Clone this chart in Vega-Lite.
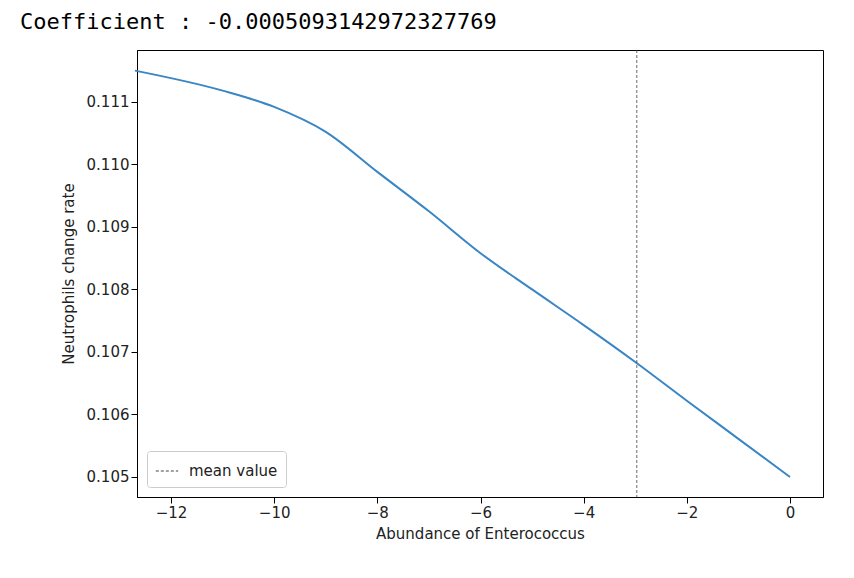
{
  "$schema": "https://vega.github.io/schema/vega-lite/v6.json",
  "width": 686,
  "height": 447,
  "autosize": "none",
  "padding": {"left": 137, "top": 50, "right": 31, "bottom": 81},
  "background": "white",
  "title": {
    "text": "Coefficient : -0.0005093142972327769",
    "font": "DejaVu Sans Mono",
    "fontSize": 22,
    "fontWeight": "normal",
    "color": "black",
    "anchor": "start",
    "frame": "group",
    "dx": -117,
    "offset": 16
  },
  "config": {
    "view": {"stroke": "black", "strokeWidth": 1},
    "axis": {
      "grid": false,
      "domainColor": "black",
      "tickColor": "black",
      "labelColor": "#222",
      "titleColor": "#222",
      "labelFont": "DejaVu Sans",
      "titleFont": "DejaVu Sans",
      "labelFontSize": 15,
      "titleFontSize": 15,
      "titleFontWeight": "normal",
      "tickSize": 6
    }
  },
  "layer": [
    {
      "data": {"values": [
        {"x": -12.7, "y": 0.1115},
        {"x": -11, "y": 0.11118},
        {"x": -10, "y": 0.11092},
        {"x": -9, "y": 0.11052},
        {"x": -8, "y": 0.10988},
        {"x": -7, "y": 0.10925},
        {"x": -6, "y": 0.10858},
        {"x": -5, "y": 0.10800},
        {"x": -4, "y": 0.10743},
        {"x": -3, "y": 0.10684},
        {"x": -2, "y": 0.10622},
        {"x": -1, "y": 0.10561},
        {"x": 0, "y": 0.10500}
      ]},
      "mark": {"type": "line", "color": "#3a86c4", "strokeWidth": 2, "interpolate": "monotone"},
      "encoding": {
        "x": {"field": "x", "type": "quantitative", "scale": {"domain": [-12.66, 0.64], "nice": false},
              "axis": {"values": [-12, -10, -8, -6, -4, -2, 0], "title": "Abundance of Enterococcus", "titlePadding": 6}},
        "y": {"field": "y", "type": "quantitative", "scale": {"domain": [0.10468, 0.11183], "nice": false, "zero": false},
              "axis": {"values": [0.105, 0.106, 0.107, 0.108, 0.109, 0.11, 0.111], "format": ".3f", "title": "Neutrophils change rate", "titlePadding": 10}}
      }
    },
    {
      "data": {"values": [{"x": -2.97, "label": "mean value"}]},
      "mark": {"type": "rule", "strokeDash": [3, 2], "strokeWidth": 0.8},
      "encoding": {
        "x": {"field": "x", "type": "quantitative"},
        "color": {"field": "label", "type": "nominal", "scale": {"range": ["#444"]},
                  "legend": {"title": null, "orient": "bottom-left", "symbolType": "stroke", "symbolStrokeWidth": 1,
                             "symbolDash": [3, 2], "labelFontSize": 15, "labelFont": "DejaVu Sans", "labelColor": "#222",
                             "fillColor": "white", "strokeColor": "#ccc", "padding": 8, "cornerRadius": 3,
                             "offset": 10, "symbolSize": 500, "labelOffset": 10}}
      }
    }
  ]
}
